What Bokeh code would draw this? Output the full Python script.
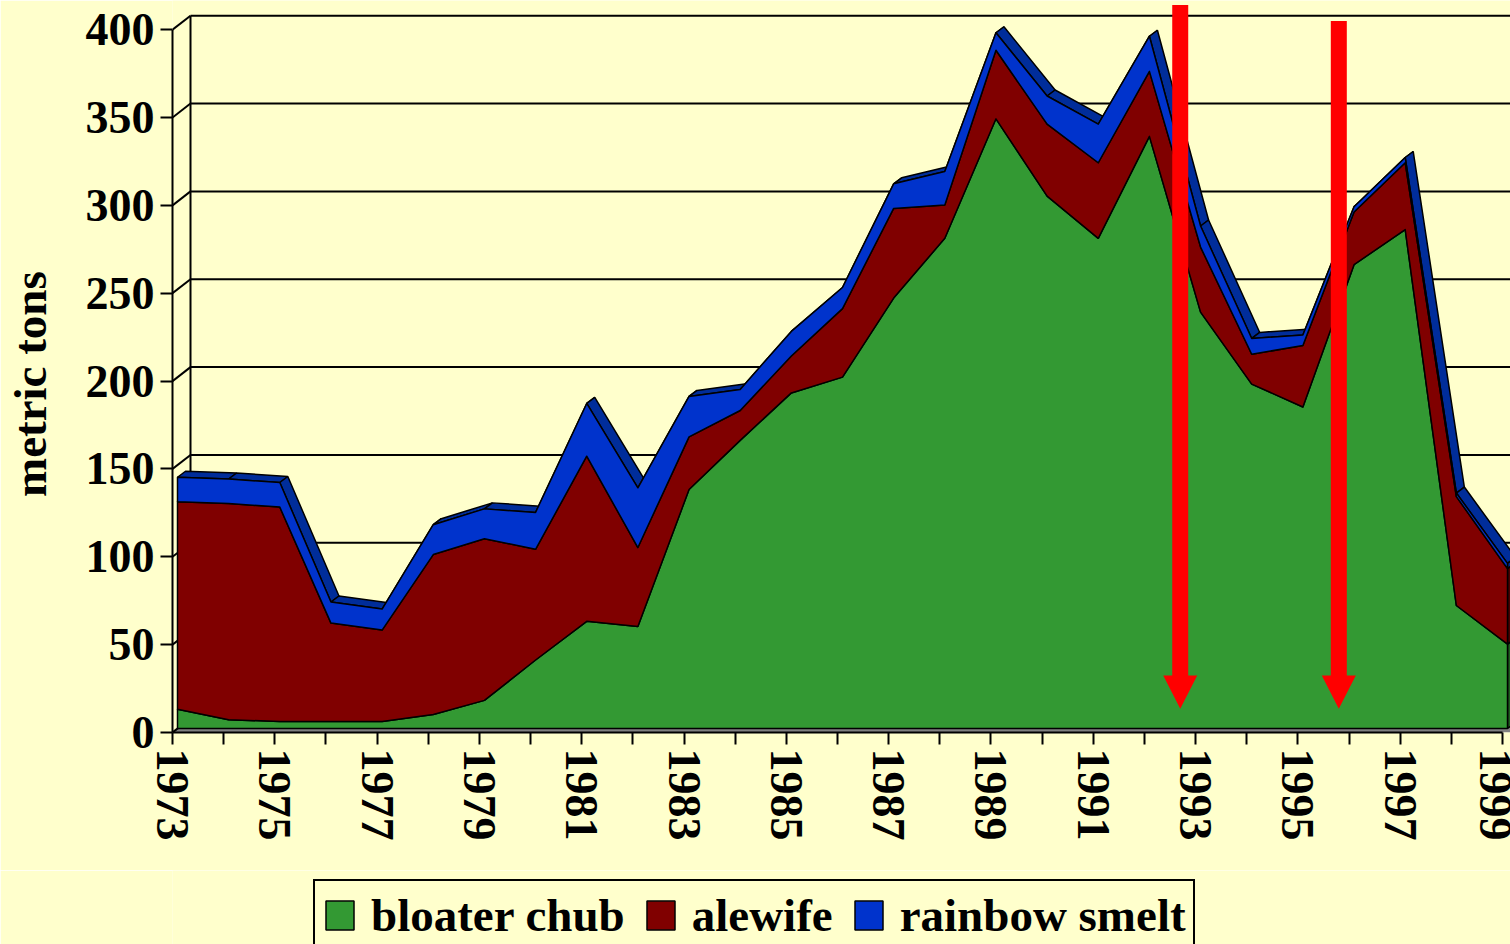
import numpy as np
from bokeh.plotting import figure
from bokeh.layouts import column
from bokeh.models import Range1d, FixedTicker, Legend, LegendItem
from bokeh.embed import file_html
from bokeh.resources import INLINE

# ---------------- data ----------------
years = list(range(1973, 2000))
bloater_chub = [11, 5, 4, 4, 4, 8, 16, 39, 61, 58,
                136, 164, 191, 200, 245, 279, 347, 303, 279, 337,
                237, 196, 183, 264, 284, 70, 48]
alewife = [118, 123, 122, 56, 52, 91, 92, 63, 94, 45,
           30, 17, 21, 39, 51, 19, 39, 41, 43, 37,
           37, 17, 35, 30, 38, 62, 43]
rainbow_smelt = [14, 14, 14, 12, 12, 17, 17, 21, 30, 34,
                 23, 12, 14, 12, 14, 19, 10, 16, 22, 20,
                 12, 9, 6, 3, 3, 2, 3]
series_names = ["bloater chub", "alewife", "rainbow smelt"]
series_values = [bloater_chub, alewife, rainbow_smelt]
y_ticks = [0, 50, 100, 150, 200, 250, 300, 350, 400]
arrow_years = [1992.7, 1995.8]
arrow_tops = [414, 405]
arrow_head_base = 32.5
arrow_tip = 13.5

# ---------------- style / geometry ----------------
BG = "#FFFFCC"
front_colors = ["#339933", "#800000", "#0033CC"]
side_colors = ["#1E5E1E", "#4A0000", "#002A8C"]
top_color = "#002D9A"
FONT = "Liberation Serif"
NBSP = "\u00a0"

W, H = 1510, 944
H_LEG = 74
H_MAIN = H - H_LEG
LEFT = 172            # page x of the first year
RIGHT_YEAR_PX = 1502  # page x of the last year
FRAME_H = 732         # page y of the value 0
BOTTOM = H_MAIN - FRAME_H
X0, X1 = years[0], years[-1]
ppx = (RIGHT_YEAR_PX - LEFT) / (X1 - X0)
ppy = 1.757
X_END = X1 + (W - RIGHT_YEAR_PX) / ppx
Y_END = FRAME_H / ppy


def dx(px):
    return px / ppx


def dy(px):
    return px / ppy


FRONT = (dx(5), dy(4))
DEPTH = (dx(8), dy(6))
WALL = (dx(18), dy(14))

p = figure(width=W, height=H_MAIN, x_range=Range1d(X0, X_END), y_range=Range1d(0, Y_END),
           output_backend="svg", toolbar_location=None,
           min_border_left=LEFT, min_border_bottom=BOTTOM,
           min_border_top=0, min_border_right=0,
           background_fill_color=BG, border_fill_color=BG, outline_line_color=None)
p.xgrid.visible = False
p.ygrid.visible = False

# floor
p.patch([X0, X_END + 1, X_END + 1, X0 + WALL[0]], [0, 0, WALL[1], WALL[1]],
        fill_color="#808080", line_color=None)

# back wall grid lines and connectors
n = len(y_ticks)
gy = [v + WALL[1] for v in y_ticks]
p.segment(x0=[X0 + WALL[0]] * n, y0=gy, x1=[X_END + 1] * n, y1=gy,
          line_color="black", line_width=2)
p.segment(x0=[X0] * n, y0=y_ticks, x1=[X0 + WALL[0]] * n, y1=gy,
          line_color="black", line_width=2)
p.segment(x0=[X0 + WALL[0]], y0=[gy[0]], x1=[X0 + WALL[0]], y1=[gy[-1]],
          line_color="black", line_width=2)

# stacking
xf = np.array(years, dtype=float) + FRONT[0]
lowers, uppers = [], []
lo = np.zeros(len(years))
for vals in series_values:
    hi = lo + np.array(vals, dtype=float)
    lowers.append(lo)
    uppers.append(hi)
    lo = hi

# top surface of the stack
top = uppers[-1] + FRONT[1]
sxs, sys = [], []
for i in range(len(years) - 1):
    sxs.append([xf[i], xf[i + 1], xf[i + 1] + DEPTH[0], xf[i] + DEPTH[0]])
    sys.append([top[i], top[i + 1], top[i + 1] + DEPTH[1], top[i] + DEPTH[1]])
p.patches(sxs, sys, fill_color=top_color, line_color="black", line_width=1.5)

# right end side faces
for k in range(3):
    a = lowers[k][-1] + FRONT[1]
    b = uppers[k][-1] + FRONT[1]
    p.patch([xf[-1], xf[-1], xf[-1] + DEPTH[0], xf[-1] + DEPTH[0]],
            [a, b, b + DEPTH[1], a + DEPTH[1]],
            fill_color=side_colors[k], line_color="black", line_width=1.5)

# front faces
for k in range(3):
    xs = list(xf) + list(xf[::-1])
    ys = list(uppers[k] + FRONT[1]) + list((lowers[k] + FRONT[1])[::-1])
    p.patch(xs, ys, fill_color=front_colors[k], line_color="black",
            line_width=1.5, line_join="round")

# red arrows
axs, ays = [], []
sw, hw = dx(8), dx(17)
for ax, at in zip(arrow_years, arrow_tops):
    axs.append([ax - sw, ax + sw, ax + sw, ax + hw, ax, ax - hw, ax - sw])
    ays.append([at, at, arrow_head_base, arrow_head_base, arrow_tip,
                arrow_head_base, arrow_head_base])
p.patches(axs, ays, fill_color="#FF0000", line_color=None)

# axes
for axis in (p.xaxis[0], p.yaxis[0]):
    axis.axis_line_color = "black"
    axis.axis_line_width = 2
    axis.major_tick_line_color = "black"
    axis.major_tick_line_width = 2
    axis.major_tick_out = 12
    axis.major_tick_in = 0
    axis.minor_tick_line_color = None
    axis.major_label_text_font = FONT
    axis.major_label_text_font_style = "bold"
    axis.major_label_text_font_size = "46px"
    axis.major_label_text_color = "black"

p.yaxis.ticker = FixedTicker(ticks=y_ticks)
p.yaxis.bounds = (y_ticks[0], y_ticks[-1])
p.yaxis.major_label_standoff = 6
# trailing no-break spaces move the centred label down to the middle of 0..400
p.yaxis.axis_label = "metric tons" + NBSP * 3
p.yaxis.axis_label_text_font = FONT
p.yaxis.axis_label_text_font_style = "bold"
p.yaxis.axis_label_text_font_size = "47px"
p.yaxis.axis_label_text_color = "black"
p.yaxis.axis_label_standoff = 27

p.xaxis.ticker = FixedTicker(ticks=years)
p.xaxis.bounds = (X0, X1)
p.xaxis.major_label_overrides = {y: "" for y in years if y % 2 == 0}
p.xaxis.major_label_orientation = "vertical"
p.xaxis.major_label_standoff = 4

# ---------------- legend strip ----------------
pl = figure(width=W, height=H_LEG, x_range=Range1d(0, 1), y_range=Range1d(0, 1),
            output_backend="svg", toolbar_location=None,
            x_axis_location=None, y_axis_location=None,
            min_border_left=LEFT, min_border_right=0, min_border_top=0, min_border_bottom=0,
            background_fill_color=BG, border_fill_color=BG, outline_line_color=None)
pl.xgrid.visible = False
pl.ygrid.visible = False
# legend proxies, kept outside the visible range
leg_renderers = [pl.patch(x=[-3, -2, -2], y=[-3, -3, -2], fill_color=c,
                          line_color="black", line_width=1.5)
                 for c in front_colors]
legend = Legend(
    items=[LegendItem(label=nm, renderers=[r]) for nm, r in zip(series_names, leg_renderers)],
    orientation="horizontal", location=(141, -7),
    label_text_font=FONT, label_text_font_style="bold", label_text_font_size="47px",
    label_text_color="black", glyph_width=35, glyph_height=36, label_standoff=14,
    spacing=18, padding=7, margin=0,
    border_line_color="black", border_line_width=2, border_line_alpha=1.0,
    background_fill_color=BG, background_fill_alpha=1.0,
)
pl.add_layout(legend)

layout = column(p, pl, spacing=0)
open("out.html", "w").write(file_html(layout, INLINE))
